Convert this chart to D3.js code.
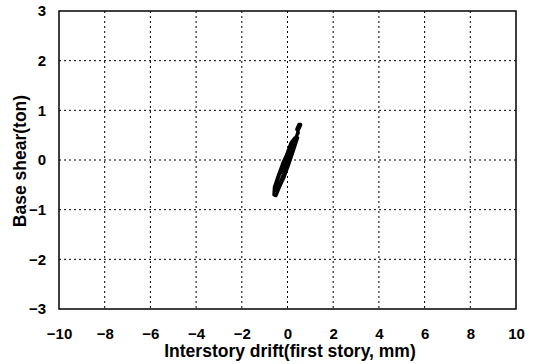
<!DOCTYPE html>
<html>
<head>
<meta charset="utf-8">
<script src="https://cdn.jsdelivr.net/npm/d3@7"></script>
<style>
  body { margin: 0; background: #fff; }
  svg { display: block; font-family: "Liberation Sans", Arial, sans-serif; }
  .grid line { stroke: #000; stroke-width: 1; stroke-dasharray: 2,3; }
  .tick text { font-weight: bold; font-size: 15px; fill: #000; }
</style>
</head>
<body>
<svg id="chart" width="535" height="364"></svg>
<script>
// tick values
const xTicks = [-10, -8, -6, -4, -2, 0, 2, 4, 6, 8, 10];
const yTicks = [-3, -2, -1, 0, 1, 2, 3];

// hysteresis trace (drift mm, shear ton)
const drift = [0, 0.17, 0.33, 0.48, 0.58, 0.58, 0.5, 0.4, 0.48, 0.42, 0.2, 0.0, -0.2, -0.4, -0.58, -0.6,
  -0.5, -0.35, -0.15, 0.05, 0.2, 0.38, 0.45, 0.3, 0.1, -0.1, -0.3, -0.45, -0.5, -0.35, -0.2, 0.0,
  0.15, 0.25, 0.05, -0.15, -0.28, -0.15, 0.05, 0.2, 0.32, 0.15, -0.05, -0.25, -0.42, -0.55, -0.45,
  -0.25, -0.05, 0.1, 0.0];
const shear = [0, 0.2, 0.4, 0.6, 0.7, 0.72, 0.72, 0.62, 0.55, 0.5, 0.35, 0.15, -0.05, -0.3, -0.55, -0.7,
  -0.72, -0.55, -0.35, -0.1, 0.1, 0.35, 0.45, 0.4, 0.2, 0.0, -0.2, -0.45, -0.6, -0.5, -0.3, -0.05,
  0.15, 0.3, 0.2, -0.05, -0.25, -0.2, 0.05, 0.25, 0.45, 0.35, 0.1, -0.15, -0.4, -0.62, -0.6,
  -0.38, -0.15, 0.05, 0.0];

const svg = d3.select('#chart');
const margin = { top: 11, right: 19, bottom: 55, left: 59 };
const width = 535 - margin.left - margin.right;
const height = 364 - margin.top - margin.bottom;
const g = svg.append('g').attr('transform', `translate(${margin.left},${margin.top})`);

const x = d3.scaleLinear().domain([-10, 10]).range([0, width]);
const y = d3.scaleLinear().domain([-3, 3]).range([height, 0]);

const fmt = d => d < 0 ? '\u2212' + Math.abs(d) : String(d);

// grid lines
g.append('g')
  .attr('class', 'grid')
  .selectAll('line')
  .data(xTicks.slice(1, -1))
  .enter().append('line')
  .attr('x1', d => x(d)).attr('x2', d => x(d))
  .attr('y1', 0).attr('y2', height);

g.append('g')
  .attr('class', 'grid')
  .selectAll('line')
  .data(yTicks.slice(1, -1))
  .enter().append('line')
  .attr('x1', 0).attr('x2', width)
  .attr('y1', d => y(d)).attr('y2', d => y(d));

// axes
const xAxis = g.append('g')
  .attr('transform', `translate(0,${height})`)
  .call(d3.axisBottom(x).tickValues(xTicks).tickFormat(fmt).tickSize(0).tickPadding(19));
xAxis.select('.domain').remove();

const yAxis = g.append('g')
  .call(d3.axisLeft(y).tickValues(yTicks).tickFormat(fmt).tickSize(0).tickPadding(13));
yAxis.select('.domain').remove();

// frame
g.append('rect')
  .attr('width', width).attr('height', height)
  .attr('fill', 'none').attr('stroke', '#000').attr('stroke-width', 1.5);

// loop
const pts = drift.map((d, i) => [d, shear[i]]);
g.append('path')
  .datum(pts)
  .attr('fill', 'none')
  .attr('stroke', '#000')
  .attr('stroke-width', 3)
  .attr('stroke-linejoin', 'round')
  .attr('d', d3.line().x(d => x(d[0])).y(d => y(d[1])));

// axis titles
svg.append('text')
  .attr('x', 290).attr('y', 357)
  .attr('text-anchor', 'middle')
  .attr('font-weight', 'bold').attr('font-size', 17.5)
  .text('Interstory drift(first story, mm)');

svg.append('text')
  .attr('transform', `translate(26,161) rotate(-90)`)
  .attr('text-anchor', 'middle')
  .attr('font-weight', 'bold').attr('font-size', 17.5)
  .text('Base shear(ton)');
</script>
</body>
</html>
